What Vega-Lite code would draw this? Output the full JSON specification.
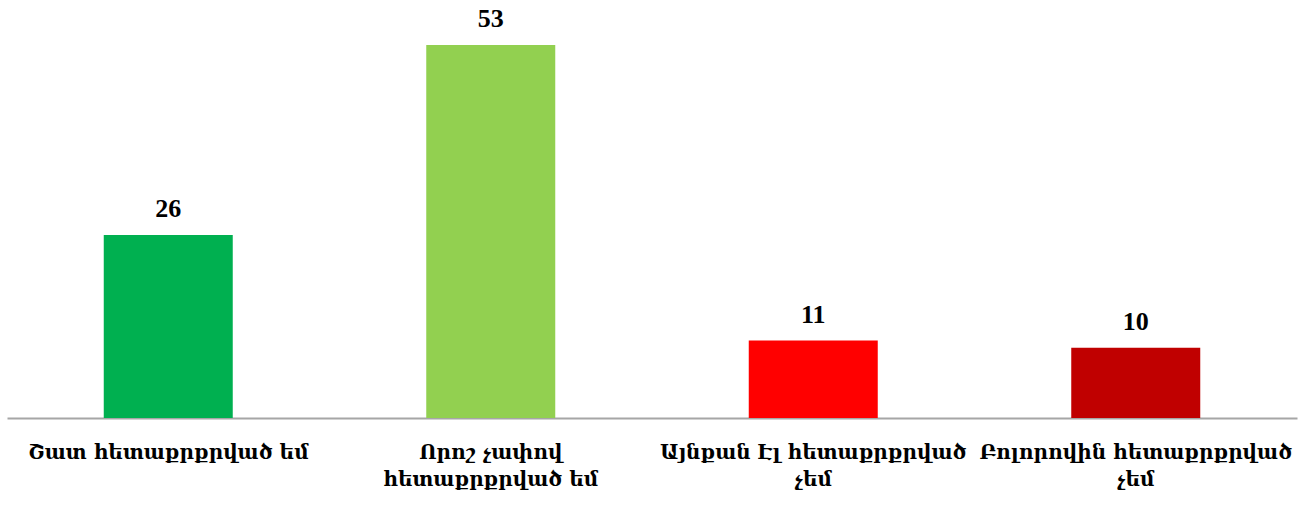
{
  "$schema": "https://vega.github.io/schema/vega-lite/v6.json",
  "autosize": "none",
  "width": 1290,
  "height": 418,
  "padding": {"left": 7, "top": 0, "right": 15, "bottom": 88},
  "background": "white",
  "config": {"view": {"stroke": null}},
  "data": {
    "values": [
      {"label": "Շատ հետաքրքրված եմ", "value": 26, "color": "#00B050"},
      {"label": "Որոշ չափով հետաքրքրված եմ", "value": 53, "color": "#92D050"},
      {"label": "Այնքան Էլ հետաքրքրված չեմ", "value": 11, "color": "#FF0000"},
      {"label": "Բոլորովին հետաքրքրված չեմ", "value": 10, "color": "#C00000"}
    ]
  },
  "encoding": {
    "x": {
      "field": "label",
      "type": "nominal",
      "sort": null,
      "scale": {"paddingInner": 0.6, "paddingOuter": 0.3},
      "axis": {
        "title": null,
        "labelAngle": 0,
        "ticks": false,
        "domainColor": "#a6a6a6",
        "domainWidth": 2,
        "labelFont": "DejaVu Serif",
        "labelFontWeight": "bold",
        "labelFontSize": 20,
        "labelColor": "black",
        "labelPadding": 24,
        "labelLineHeight": 27,
        "labelLimit": 400,
        "labelBaseline": "top",
        "labelExpr": "datum.value == 'Որոշ չափով հետաքրքրված եմ' ? ['Որոշ չափով', 'հետաքրքրված եմ'] : datum.value == 'Այնքան Էլ հետաքրքրված չեմ' ? ['Այնքան Էլ հետաքրքրված', 'չեմ'] : datum.value == 'Բոլորովին հետաքրքրված չեմ' ? ['Բոլորովին հետաքրքրված', 'չեմ'] : datum.value"
      }
    },
    "y": {
      "field": "value",
      "type": "quantitative",
      "scale": {"domain": [0, 59.4], "nice": false, "zero": true},
      "axis": null
    }
  },
  "layer": [
    {
      "mark": {"type": "bar"},
      "encoding": {
        "color": {"field": "color", "type": "nominal", "scale": null}
      }
    },
    {
      "mark": {
        "type": "text",
        "dy": -18,
        "baseline": "alphabetic",
        "font": "Liberation Serif",
        "fontWeight": "bold",
        "fontSize": 26,
        "color": "black"
      },
      "encoding": {"text": {"field": "value", "type": "quantitative"}}
    }
  ]
}
